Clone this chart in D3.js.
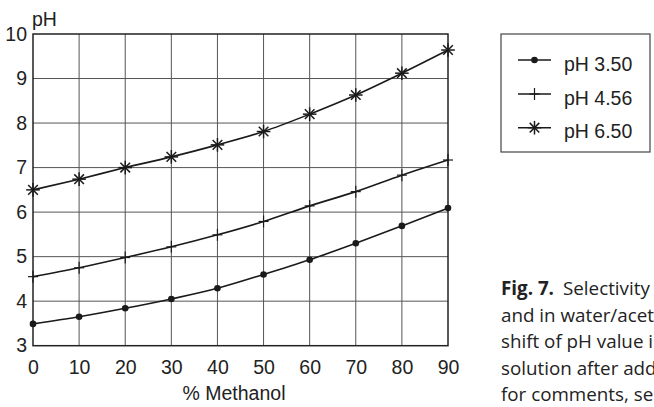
<!DOCTYPE html>
<html><head><meta charset="utf-8">
<script src="https://cdn.jsdelivr.net/npm/d3@7"></script>
<style>html,body{margin:0;padding:0;background:#fff;overflow:hidden}</style>
</head><body>
<svg id="c" width="654" height="407"></svg>
<script>
const methanol = [0,10,20,30,40,50,60,70,80,90];
const pH350 = [3.49,3.65,3.84,4.05,4.29,4.60,4.93,5.30,5.69,6.09];
const pH456 = [4.55,4.75,4.98,5.22,5.49,5.79,6.14,6.46,6.83,7.17];
const pH650 = [6.50,6.74,7.00,7.24,7.51,7.81,8.20,8.63,9.12,9.64];
const seriesNames = ["pH 3.50","pH 4.56","pH 6.50"];
const xTicks = [0,10,20,30,40,50,60,70,80,90];
const yTicks = [3,4,5,6,7,8,9,10];
const captionLines = ["Selectivity","and in water/acet","shift of pH value i","solution after add","for comments, se"];

const svg = d3.select("#c");
const x = d3.scaleLinear().domain([0,90]).range([33,448]);
const y = d3.scaleLinear().domain([3,10]).range([345.7,34]);
const font = "Liberation Sans, Arial, sans-serif";
const fs = 19.5;

// grid
svg.append("g").selectAll("line").data(xTicks.slice(1,-1)).join("line")
  .attr("x1",d=>x(d)).attr("x2",d=>x(d)).attr("y1",y(3)).attr("y2",y(10))
  .attr("stroke","#555").attr("stroke-width",1);
svg.append("g").selectAll("line").data(yTicks.slice(1,-1)).join("line")
  .attr("x1",x(0)).attr("x2",x(90)).attr("y1",d=>y(d)).attr("y2",d=>y(d))
  .attr("stroke","#555").attr("stroke-width",1);
// frame
svg.append("rect").attr("x",x(0)).attr("y",y(10)).attr("width",x(90)-x(0)).attr("height",y(3)-y(10))
  .attr("fill","none").attr("stroke","#222").attr("stroke-width",1.5);

const xa = svg.append("g").attr("transform",`translate(0,${y(3)})`)
  .call(d3.axisBottom(x).tickValues(xTicks).tickFormat(d3.format("d")).tickSize(0).tickPadding(14.5));
xa.select(".domain").remove();
xa.selectAll("text").attr("font-family",font).attr("font-size",fs).attr("fill","#222");
const ya = svg.append("g").attr("transform",`translate(${x(0)},0)`)
  .call(d3.axisLeft(y).tickValues(yTicks).tickFormat(d3.format("d")).tickSize(0).tickPadding(6));
ya.select(".domain").remove();
ya.selectAll("text").attr("font-family",font).attr("font-size",fs).attr("fill","#222");

svg.append("text").attr("x",32).attr("y",26).text("pH")
  .attr("font-family",font).attr("font-size",fs).attr("fill","#222");
svg.append("text").attr("x",234).attr("y",400).attr("text-anchor","middle").text("% Methanol")
  .attr("font-family",font).attr("font-size",fs).attr("fill","#222");

const line = d3.line().x((d,i)=>x(methanol[i])).y(d=>y(d)).curve(d3.curveMonotoneX);
const all = [pH350,pH456,pH650];
all.forEach(s=>{
  svg.append("path").attr("d",line(s)).attr("fill","none").attr("stroke","#1a1a1a").attr("stroke-width",1.6);
});

function drawMarker(g,type,cx,cy){
  if(type===0){
    g.append("circle").attr("cx",cx).attr("cy",cy).attr("r",3.3).attr("fill","#1a1a1a");
  } else if(type===1){
    g.append("line").attr("x1",cx).attr("x2",cx).attr("y1",cy-6).attr("y2",cy+6).attr("stroke","#1a1a1a").attr("stroke-width",1.2);
    g.append("line").attr("x1",cx-5).attr("x2",cx+5).attr("y1",cy).attr("y2",cy).attr("stroke","#1a1a1a").attr("stroke-width",1.2);
  } else {
    const r=6.8;
    [0,45,90,135].forEach(a=>{
      const rad=a*Math.PI/180;
      g.append("line").attr("x1",cx-r*Math.cos(rad)).attr("x2",cx+r*Math.cos(rad))
        .attr("y1",cy-r*Math.sin(rad)).attr("y2",cy+r*Math.sin(rad))
        .attr("stroke","#1a1a1a").attr("stroke-width",1.5);
    });
  }
}
const mg = svg.append("g");
all.forEach((s,k)=>s.forEach((v,i)=>drawMarker(mg,k,x(methanol[i]),y(v))));

// legend
const lg = svg.append("g");
lg.append("rect").attr("x",501).attr("y",34).attr("width",149).attr("height",118)
  .attr("fill","#fff").attr("stroke","#444").attr("stroke-width",1.2);
const ly = [60,94,127.7];
seriesNames.forEach((n,k)=>{
  lg.append("line").attr("x1",518).attr("x2",551).attr("y1",ly[k]).attr("y2",ly[k]).attr("stroke","#1a1a1a").attr("stroke-width",1.4);
  drawMarker(lg,k,534.5,ly[k]);
  lg.append("text").attr("x",564).attr("y",ly[k]+10.5).text(n)
    .attr("font-family",font).attr("font-size",fs).attr("fill","#222");
});

// caption (cut at the right edge as in the reference)
const cf = "Open Sans, Noto Sans, sans-serif";
const cfs = 18.8;
const cap = svg.append("text").attr("font-family",cf).attr("font-size",cfs).attr("fill","#222");
cap.append("tspan").attr("x",501).attr("y",295).attr("font-weight","bold").text("Fig. 7.");
cap.append("tspan").attr("x",563).text(captionLines[0]);
captionLines.slice(1).forEach((t,i)=>{
  svg.append("text").attr("x",501).attr("y",295+26.5*(i+1)).text(t)
    .attr("font-family",cf).attr("font-size",cfs).attr("fill","#222");
});
</script>
</body></html>
